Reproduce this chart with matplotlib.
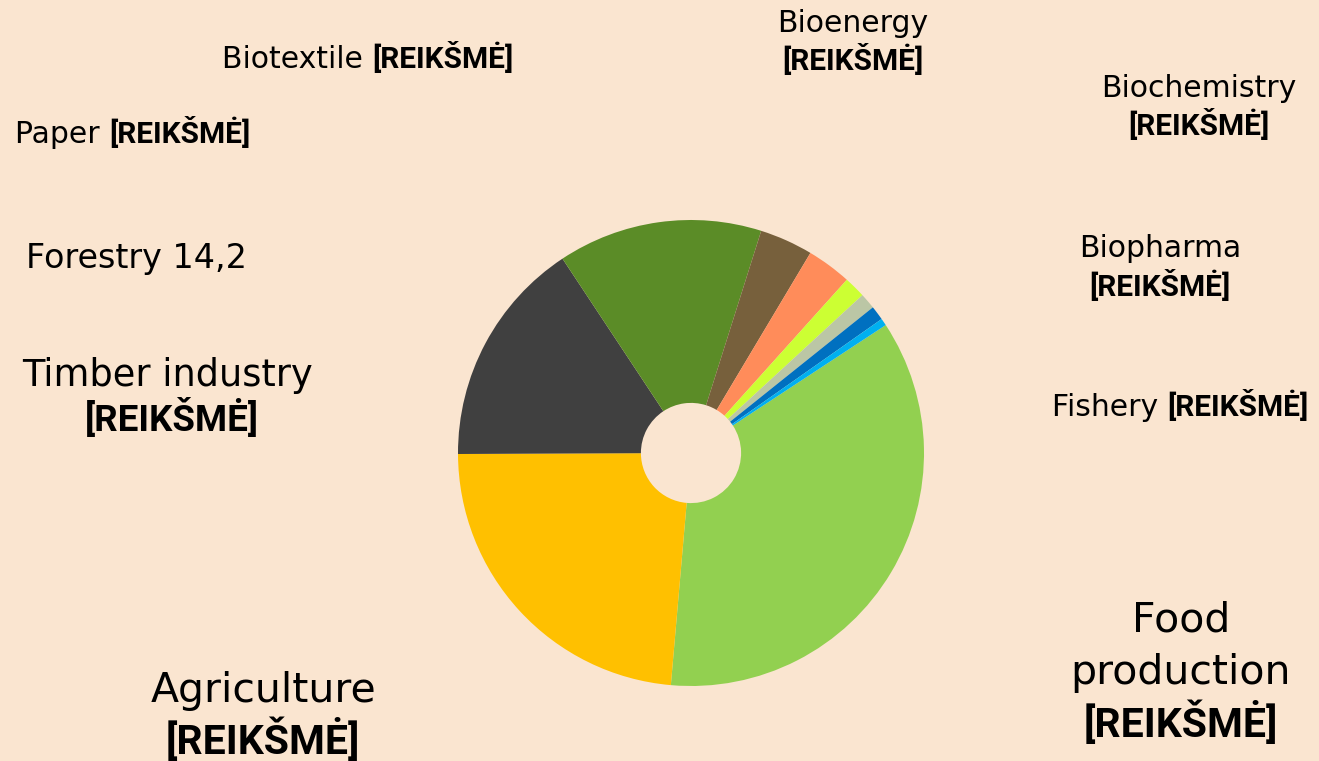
import numpy as np
import matplotlib.pyplot as plt

# Bioeconomy sectors, share of the pie (%)
sectors = ["Food production", "Agriculture", "Timber industry", "Forestry", "Paper",
           "Biotextile", "Bioenergy", "Biochemistry", "Biopharma", "Fishery"]
shares = [35.7, 23.6, 15.8, 14.2, 3.7, 3.1, 1.5, 1.1, 1.0, 0.5]
colors = ["#92D050", "#FFC000", "#404040", "#5B8C27", "#77603C",
          "#FF8C5A", "#CCFF33", "#BBC6A5", "#0070C0", "#00B0F0"]
placeholder = "[REIKŠMĖ]"

W, H = 1319, 761
bg = "#FAE5D0"

fig = plt.figure(figsize=(W / 100, H / 100), dpi=100, facecolor=bg)

# donut centred at (691, 453) px, radius 233 px
cx, cy, r = 691, 453, 233
ax = fig.add_axes([(cx - r) / W, (H - cy - r) / H, 2 * r / W, 2 * r / H])
ax.set_facecolor(bg)
ax.pie(shares, colors=colors, startangle=33.3, counterclock=False,
       radius=1, wedgeprops=dict(width=0.785, edgecolor="none"))
ax.set_xlim(-1, 1)
ax.set_ylim(-1, 1)
ax.set_aspect("equal")
ax.axis("off")


def px(x, y):
    return x / W, 1 - y / H


def line(x, y, s, size, bold=False, ha="center"):
    if bold:
        return fig.text(*px(x, y), s, fontsize=size, ha=ha, va="baseline",
                        family=["Roboto", "DejaVu Sans"], fontweight="bold")
    return fig.text(*px(x, y), s, fontsize=size, ha=ha, va="baseline")


def mixed(x, y, name, size):
    # normal name followed by the bold placeholder on one line
    t = fig.text(*px(x, y), name + " ", fontsize=size, ha="left", va="baseline")
    fig.canvas.draw()
    bb = t.get_window_extent()
    line(bb.x1, y, placeholder, size, bold=True, ha="left")


small = 21.5

# top / right small labels
line(853, 32, "Bioenergy", small)
line(853, 70, placeholder, small, bold=True)
mixed(222, 68, "Biotextile", small)
mixed(15, 143, "Paper", small)
line(1199, 97, "Biochemistry", small)
line(1199, 135, placeholder, small, bold=True)
line(1160, 257, "Biopharma", small)
line(1160, 296, placeholder, small, bold=True)
mixed(1052, 416, "Fishery", small)

# left labels
line(26, 268, "Forestry 14,2", 24, ha="left")
line(168, 386, "Timber industry", 26.5)
line(172, 431, placeholder, 26.5, bold=True)

# bottom labels
line(263, 702, "Agriculture", 29.5)
line(263, 754, placeholder, 29.5, bold=True)
line(1181, 632, "Food", 29.5)
line(1181, 684, "production", 29.5)
line(1181, 737, placeholder, 29.5, bold=True)

fig.savefig("out.png", dpi=100, facecolor=bg)
